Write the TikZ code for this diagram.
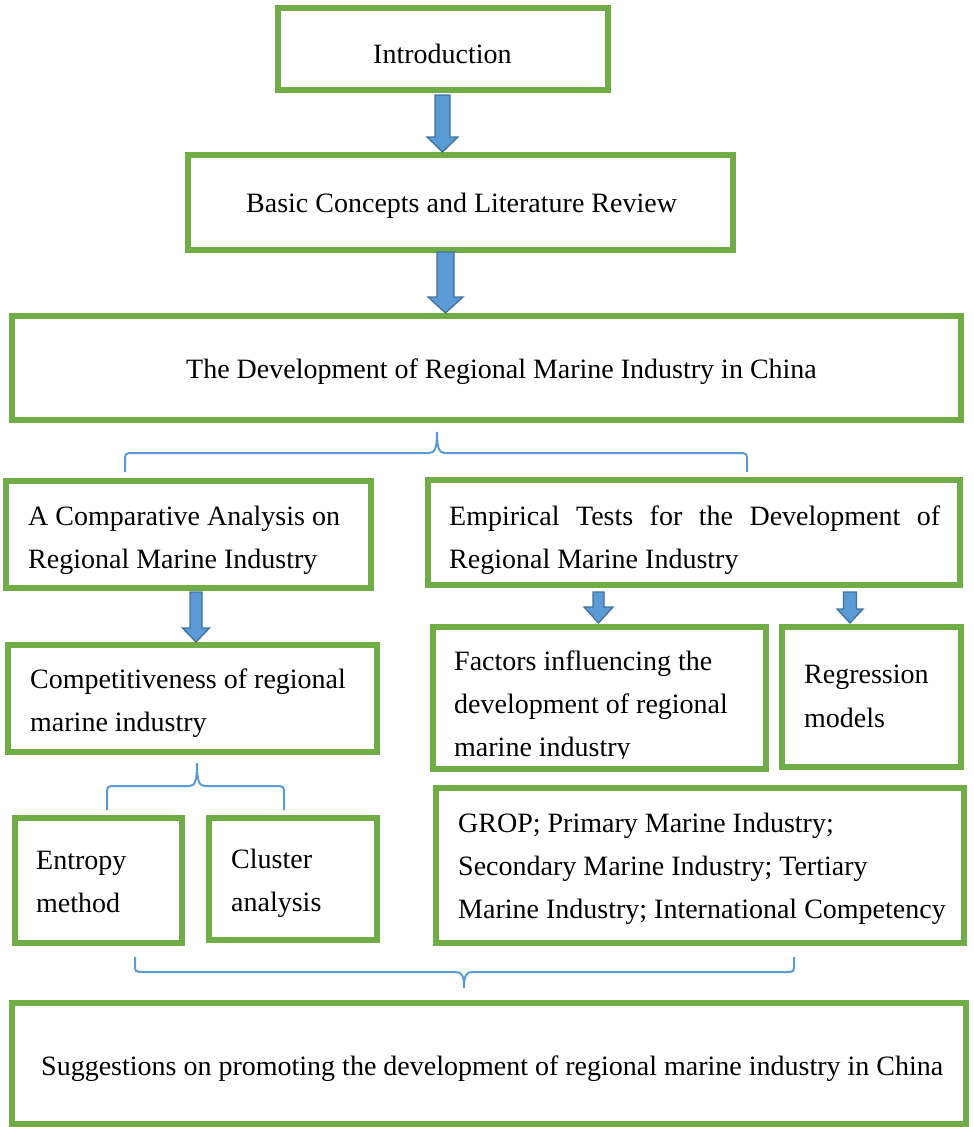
\documentclass[tikz,border=0pt]{standalone}
\usepackage{fontspec}
\setmainfont{Liberation Serif}
\definecolor{boxgreen}{HTML}{70AD47}
\definecolor{arrowblue}{HTML}{5B9BD5}
\definecolor{arrowedge}{HTML}{41719C}
\newcommand\bluearrow[6]{%
  \draw[barrow] ({#1-#3},#2) -- ({#1+#3},#2) -- ({#1+#3},#5) -- ({#1+#4},#5)
    -- (#1,#6) -- ({#1-#4},#5) -- ({#1-#3},#5) -- cycle;}
\tikzset{
  greenbox/.style={draw=boxgreen, line width=5.5pt, fill=white, inner sep=0pt, rectangle},
  barrow/.style={fill=arrowblue, draw=arrowedge, line width=1.3pt, line join=miter},
  bracestyle/.style={draw=arrowblue, line width=2pt},
  txt/.style={anchor=base west, inner sep=0pt, font=\fontsize{28}{33}\selectfont},
}
\begin{document}
\begin{tikzpicture}[x=1pt,y=-1pt]
\useasboundingbox (0,0) rectangle (974,1127);
% boxes
\node[greenbox, minimum width=330pt, minimum height=82pt] (intro) at (443,49) {};
\node[greenbox, minimum width=545pt, minimum height=95pt] (basic) at (460.5,202.5) {};
\node[greenbox, minimum width=949pt, minimum height=104pt] (dev) at (486.5,368) {};
\node[greenbox, minimum width=365pt, minimum height=107pt] (comp) at (188.5,534.5) {};
\node[greenbox, minimum width=532pt, minimum height=105pt] (emp) at (694,532.5) {};
\node[greenbox, minimum width=369pt, minimum height=107pt] (compet) at (192.5,698.5) {};
\node[greenbox, minimum width=333pt, minimum height=142pt] (factors) at (599.5,698) {};
\node[greenbox, minimum width=179pt, minimum height=140pt] (reg) at (871.5,697) {};
\node[greenbox, minimum width=167pt, minimum height=125pt] (entropy) at (98.5,880.5) {};
\node[greenbox, minimum width=168pt, minimum height=122pt] (cluster) at (293,879) {};
\node[greenbox, minimum width=528pt, minimum height=155pt] (grop) at (700,865.5) {};
\node[greenbox, minimum width=954pt, minimum height=121pt] (final) at (489,1063.5) {};
% texts
\node[txt] (tintro) at (373,63) {Introduction};
\node[txt] (tbasic) at (246,212) {Basic Concepts and Literature Review};
\node[txt] (tdev) at (186,378) {The Development of Regional Marine Industry in China};
\node[txt] (tcompa) at (28,525) {A Comparative Analysis on};
\node[txt] (tcompb) at (28,568) {Regional Marine Industry};
\node[txt] (tempa) at (449,525) {\makebox[491pt][s]{Empirical Tests for the Development of}};
\node[txt] (tempb) at (449,568) {Regional Marine Industry};
\node[txt] (tcoma) at (30,688) {Competitiveness of regional};
\node[txt] (tcomb) at (30,731) {marine industry};
\node[txt] (tfaca) at (454,670) {Factors influencing the};
\node[txt] (tfacb) at (454,713) {development of regional};
\begin{scope}
\clip (433,627) rectangle (766,758);
\node[txt] (tfacc) at (454,756) {marine industry};
\end{scope}
\node[txt] (trega) at (804,683) {Regression};
\node[txt] (tregb) at (804,727) {models};
\node[txt] (tenta) at (36,869) {Entropy};
\node[txt] (tentb) at (36,912) {method};
\node[txt] (tclua) at (231,868) {Cluster};
\node[txt] (tclub) at (231,911) {analysis};
\node[txt] (tgropa) at (458,832) {GROP; Primary Marine Industry;};
\node[txt] (tgropb) at (458,875) {Secondary Marine Industry; Tertiary};
\node[txt] (tgropc) at (458,918) {Marine Industry; International Competency};
\node[txt] (tfinal) at (41,1075) {Suggestions on promoting the development of regional marine industry in China};
% block arrows
\bluearrow{442.5}{95}{7.5}{15.5}{137}{152}
\bluearrow{445.5}{252}{8.5}{17.5}{297}{313}
\bluearrow{196}{592}{6}{13.5}{628}{642}
\bluearrow{598.5}{592}{5.5}{14.5}{607}{623}
\bluearrow{850}{592}{6.5}{13}{609}{623}
% braces
\draw[bracestyle] (125,472) -- (125,462) .. controls (125,453) .. (134,453) -- (429,453)
  .. controls (435,453) and (437,448) .. (437,432)
  .. controls (437,448) and (439,453) .. (445,453) -- (738,453)
  .. controls (747,453) .. (747,462) -- (747,472);
\draw[bracestyle] (107,810) -- (107,795) .. controls (107,786) .. (116,786) -- (189,786)
  .. controls (195,786) and (197,781) .. (197,763)
  .. controls (197,781) and (199,786) .. (205,786) -- (275,786)
  .. controls (284,786) .. (284,795) -- (284,810);
\draw[bracestyle] (135,957) -- (135,964) .. controls (135,972) .. (144,972) -- (456,972)
  .. controls (462,972) and (464,976) .. (464,988)
  .. controls (464,976) and (466,972) .. (472,972) -- (785,972)
  .. controls (794,972) .. (794,964) -- (794,957);
\end{tikzpicture}
\end{document}
